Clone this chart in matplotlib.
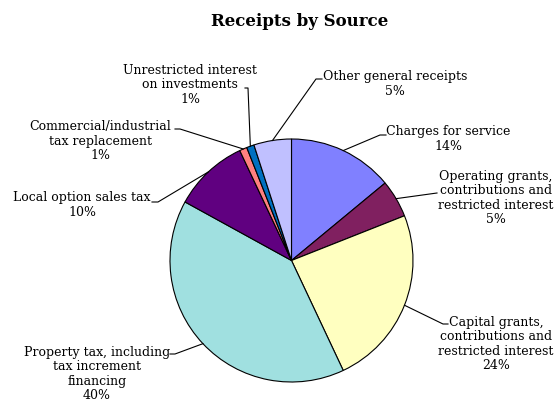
import matplotlib
matplotlib.use("Agg")
import matplotlib.pyplot as plt
import numpy as np

plt.rcParams['font.family'] = 'DejaVu Serif'

labels = ['Charges for service',
          'Operating grants,\ncontributions and\nrestricted interest',
          'Capital grants,\ncontributions and\nrestricted interest',
          'Property tax, including\ntax increment\nfinancing',
          'Local option sales tax',
          'Commercial/industrial\ntax replacement',
          'Unrestricted interest\non investments',
          'Other general receipts']
values = [14, 5, 24, 40, 10, 1, 1, 5]
colors = ['#8080FF', '#802060', '#FFFFC0', '#A0E0E0',
          '#600080', '#FF8080', '#0070C0', '#C0C0FF']

W, H = 559, 402
fig = plt.figure(figsize=(W / 100, H / 100), dpi=100)
ax = fig.add_axes([0, 0, 1, 1])

cx, cy, r = 291.5, H - 261.5, 121.5
wedges, _ = ax.pie(values, colors=colors, startangle=90, counterclock=False,
                   center=(cx, cy), radius=r, frame=True,
                   wedgeprops=dict(edgecolor='black', linewidth=0.8))
ax.set_xlim(0, W)
ax.set_ylim(0, H)
ax.set_aspect('equal')
ax.axis('off')

# label layout in pixel coords (y down): text center, elbow, line end
layout = [
    ((448, 139), (380, 136), (386, 136)),
    ((496, 198), (437, 194), (437, 194)),
    ((496, 344), (443, 325), (448, 325)),
    ((97, 374), (175, 355), (170, 355)),
    ((82, 205), (158, 203), (152, 203)),
    ((100, 141), (180, 130), (175, 130)),
    ((190, 85), (248, 89), (245, 89)),
    ((395, 84), (316, 80), (322, 80)),
]

for w, lab, v, (tc, el, en) in zip(wedges, labels, values, layout):
    ang = np.deg2rad((w.theta1 + w.theta2) / 2)
    px, py = cx + r * np.cos(ang), cy + r * np.sin(ang)
    ax.plot([px, el[0], en[0]], [py, H - el[1], H - en[1]],
            color='black', linewidth=0.8)
    ax.text(tc[0], H - tc[1], '%s\n%d%%' % (lab, v), ha='center', va='center',
            fontsize=9, linespacing=1.15)

ax.text(300, H - 21, 'Receipts by Source', ha='center', va='center',
        fontsize=12, fontweight='bold')

fig.savefig('out.png', dpi=100)
